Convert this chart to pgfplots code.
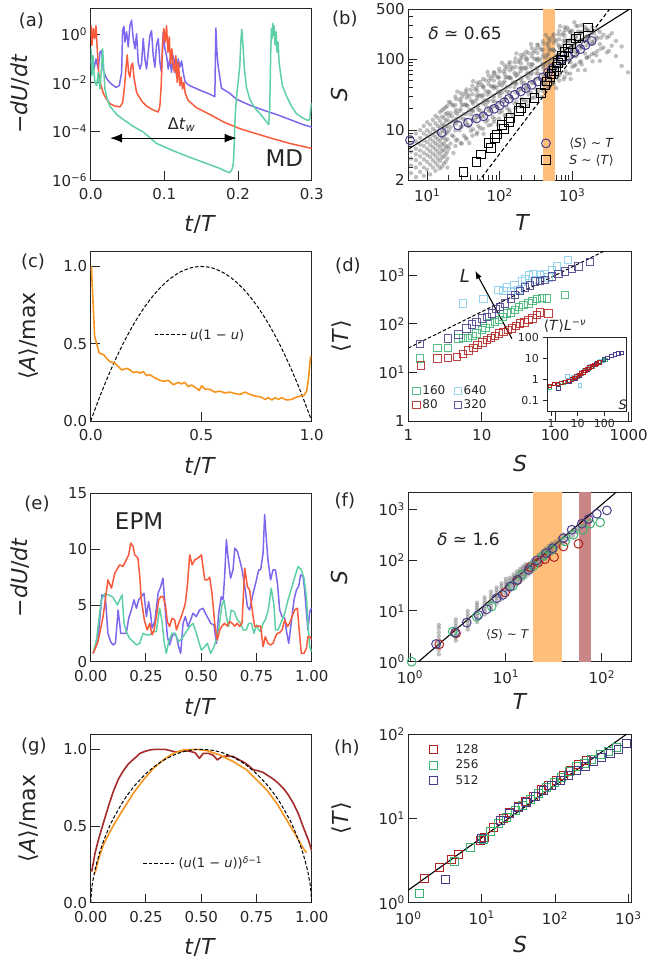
\documentclass[border=0pt]{standalone}
\usepackage{fontspec}
\setmainfont{DejaVu Sans}
\usepackage{pgfplots}
\pgfplotsset{compat=1.18}
\usetikzlibrary{arrows.meta}

\definecolor{axc}{HTML}{262626}
\definecolor{lblue}{HTML}{7B68EE}
\definecolor{lred}{HTML}{FA5A3C}
\definecolor{lgreen}{HTML}{5FD0A5}
\definecolor{cblue}{HTML}{483D8B}
\definecolor{band}{HTML}{FFBF7A}
\definecolor{band2}{HTML}{C98686}
\definecolor{corange}{HTML}{F7941D}
\definecolor{gred}{HTML}{A52A2A}
\definecolor{dgreen}{HTML}{3CB371}
\definecolor{dred}{HTML}{B22222}
\definecolor{dsky}{HTML}{87CEEB}
\definecolor{dpurple}{HTML}{483D8B}

\newcommand{\fz}[1]{\fontsize{#1}{#1}\selectfont}

\pgfplotsset{
  panel/.style={
    scale only axis, anchor=north west,
    axis line style={line width=1pt, draw=axc},
    tick align=inside, tick pos=left,
    major tick length=9pt, minor tick length=5pt,
    tick style={line width=1pt, draw=axc},
    tick label style={font=\fz{15}, text=axc},
    xticklabel style={yshift=-5pt},
    label style={font=\fz{22}, text=axc},
  },
  nominor/.style={minor tick length=0pt},
  dleg/.style={legend image code/.code={\draw[##1] (0pt,0pt) -- (33pt,0pt);}},
  cloud/.style={only marks, mark=*, mark size=2.2pt, mark options={draw opacity=0, fill=black!60, fill opacity=0.42}},
}

\begin{document}
\begin{tikzpicture}
\useasboundingbox (0,0) rectangle (652pt,-962pt);

% ---------------- (a) ----------------
\begin{axis}[panel, nominor, at={(90.7pt,-8pt)}, width=221pt, height=172pt,
  xmin=0, xmax=0.3, ymode=log, ymin=1e-6, ymax=12,
  xtick={0,0.1,0.2,0.3}, xticklabels={0.0,0.1,0.2,0.3},
  ytick={1e-6,1e-4,1e-2,1}, yticklabels={10\textsuperscript{−6},10\textsuperscript{−4},10\textsuperscript{−2},10\textsuperscript{0}},
  xlabel={\textit{t}/\textit{T}}, ylabel={−\textit{dU}/\textit{dt}},
  xlabel style={at={(axis description cs:0.495,-0.256)}, anchor=center},
  ylabel style={at={(axis description cs:-0.32,0.5)}, anchor=center},
  extra description/.code={\node[font=\fz{18}, text=axc] at (-0.268,0.924) {(a)};},
]
\addplot[lblue, line width=1.5pt, line join=round] coordinates {
(0,0.08)(0.0004,0.06)(0.0026,0.13)(0.0044,0.037)(0.0071,0.096)(0.0103,0.037)(0.0126,0.18)(0.0148,0.21)(0.0171,0.032)(0.0207,0.017)(0.0239,0.012)(0.0284,0.0088)(0.0343,0.0065)(0.0388,0.0076)(0.042,0.027)(0.0433,1.4)(0.0451,2.1)(0.0465,0.48)(0.0487,1.25)(0.051,0.3)(0.0532,2.2)(0.0555,3.8)(0.0578,0.66)(0.06,0.25)(0.0623,1.05)(0.0645,0.07)(0.0668,0.037)(0.069,0.06)(0.0713,0.66)(0.0736,0.096)(0.0758,0.037)(0.0781,0.18)(0.0804,0.9)(0.0826,1.4)(0.0849,0.13)(0.0871,0.044)(0.0894,0.35)(0.0917,0.66)(0.0939,0.07)(0.0962,0.027)(0.0984,1.25)(0.1007,0.25)(0.103,0.13)(0.1052,0.037)(0.1075,0.096)(0.1097,0.027)(0.112,0.13)(0.1143,0.06)(0.1165,0.02)(0.1188,0.096)(0.121,0.044)(0.1233,0.08)(0.1256,0.027)(0.1278,0.012)(0.13,0.0095)(0.1346,0.0076)(0.1482,0.005)(0.1617,0.0034)(0.1685,0.0027)(0.1699,1.8)(0.171,0.3)(0.172,0.1)(0.173,0.05)(0.1775,0.006)(0.1888,0.0037)(0.1979,0.0021)(0.216,0.0012)(0.234,0.00076)(0.2521,0.0005)(0.2702,0.00031)(0.2883,0.00019)(0.3,0.00015)};
\addplot[lred, line width=1.5pt, line join=round] coordinates {
(0,0.9)(0.0004,2.2)(0.0017,0.35)(0.0035,1.72)(0.0053,0.66)(0.0071,2.2)(0.0089,0.25)(0.0108,0.027)(0.0135,0.0089)(0.0171,0.0037)(0.0216,0.0021)(0.0261,0.0014)(0.0329,0.0011)(0.0397,0.00103)(0.0433,0.0015)(0.046,0.0076)(0.0478,0.037)(0.0496,0.14)(0.0514,0.027)(0.0532,0.017)(0.055,0.05)(0.0569,0.065)(0.0587,0.017)(0.0623,0.004)(0.069,0.0018)(0.0758,0.0011)(0.0849,0.00076)(0.0917,0.00063)(0.0939,0.0011)(0.0957,0.0076)(0.0975,0.35)(0.0993,1.72)(0.1012,0.48)(0.103,2.2)(0.1048,0.18)(0.1066,0.77)(0.1084,0.06)(0.1102,0.25)(0.112,0.05)(0.1138,0.027)(0.1156,0.13)(0.1174,0.0104)(0.1192,0.07)(0.121,0.0076)(0.1228,0.017)(0.1247,0.0056)(0.1265,0.0104)(0.1283,0.0037)(0.1323,0.0019)(0.1436,0.00094)(0.1617,0.0005)(0.1798,0.00025)(0.2024,0.00013)(0.225,8e-5)(0.2476,5e-5)(0.2702,3.2e-5)(0.3,2e-5)};
\addplot[lgreen, line width=1.5pt, line join=round] coordinates {
(0,0.07)(0.0004,0.25)(0.0017,0.02)(0.0031,0.13)(0.0044,0.027)(0.0058,0.0104)(0.008,0.0076)(0.0103,0.027)(0.0126,0.0056)(0.0148,0.05)(0.0162,0.25)(0.0175,0.05)(0.0193,0.0056)(0.0225,0.0021)(0.0261,0.0011)(0.0352,0.0005)(0.0442,0.00031)(0.0578,0.00016)(0.0713,9.5e-5)(0.0894,3.2e-5)(0.112,1.6e-5)(0.1346,8.6e-6)(0.1572,4.8e-6)(0.1753,3e-6)(0.1821,2.4e-6)(0.1879,2e-6)(0.1911,2.4e-6)(0.1934,4.1e-6)(0.1947,2.4e-5)(0.1961,0.00043)(0.1979,0.0025)(0.2001,0.0104)(0.2024,0.05)(0.2038,0.48)(0.2051,1.6)(0.2065,0.48)(0.2083,0.05)(0.2114,0.0065)(0.216,0.0021)(0.2227,0.00094)(0.2318,0.00046)(0.2386,0.00025)(0.2417,0.00019)(0.2431,0.0011)(0.2444,0.18)(0.2453,1.72)(0.2462,0.66)(0.2471,2.8)(0.248,0.9)(0.249,2.2)(0.2503,0.35)(0.2517,1.25)(0.253,0.18)(0.2544,0.48)(0.2557,0.07)(0.2575,0.027)(0.2603,0.0076)(0.2657,0.0029)(0.2725,0.0011)(0.2792,0.00054)(0.2883,0.00035)(0.2951,0.00028)(0.2973,0.00032)(0.2987,0.00081)(0.3,0.0015)};
\draw[{Latex[length=12pt,width=9pt]}-{Latex[length=12pt,width=9pt]}, line width=1.1pt, black] (axis cs:0.0262,5.3e-5) -- (axis cs:0.198,5.3e-5);
\node[font=\fz{16}, text=axc] at (axis cs:0.1235,1.9e-4) {Δ\textit{t}\textsubscript{\textit{w}}};
\node[font=\fz{23}, text=axc] at (rel axis cs:0.876,0.125) {MD};
\end{axis}

% ---------------- (b) ----------------
\begin{axis}[panel, at={(408.3pt,-9.3pt)}, width=223.4pt, height=170.7pt,
  xmode=log, ymode=log, xmin=5.5, xmax=6600, ymin=2, ymax=500,
  xtick={10,100,1000}, xticklabels={10\textsuperscript{1},10\textsuperscript{2},10\textsuperscript{3}},
  ytick={2,10,100,500}, yticklabels={2,10,100,500},
  minor ytick={3,4,5,6,7,8,9,20,30,40,50,60,70,80,90,200,300,400},
  minor xtick={},
  xlabel={\textit{T}}, ylabel={\textit{S}},
  xlabel style={at={(axis description cs:0.513,-0.251)}, anchor=center},
  ylabel style={at={(axis description cs:-0.306,0.5)}, anchor=center},
  extra description/.code={\node[font=\fz{18}, text=axc] at (-0.284,0.942) {(b)};},
  legend cell align=left,
  legend style={at={(rel axis cs:0.93,0.07)}, anchor=south east, draw=none, fill=none, inner sep=0pt, font=\fz{12.5}, text=axc, row sep=2pt, /tikz/every odd column/.append style={column sep=17pt}},
]
\addplot[cloud, forget plot] coordinates {
(6,2.5)(6,3.2)(6,4)(6,5)(6,6.5)(6,8)
(7,2.2)(7,3)(7,3.8)(7,4.6)(7,5.5)(7,7)(7,9)
(8,2.6)(8,3.4)(8,4.3)(8,5.2)(8,6.3)(8,7.8)(8,10)
(9,2.3)(9,3)(9,3.9)(9,4.8)(9,6)(9,7.2)(9,9)(9,11.5)
(10,2.8)(10,3.6)(10,4.5)(10,5.5)(10,6.8)(10,8.3)(10,10)(10,13)
(11,2.4)(11,3.3)(11,4.2)(11,5.1)(11,6.2)(11,7.6)(11,9.3)(11,12)
(12,3)(12,3.8)(12,4.7)(12,5.8)(12,7)(12,8.6)(12,10.5)(12,14)
(13,2.7)(13,3.5)(13,4.4)(13,5.4)(13,6.6)(13,8)(13,9.8)(13,12.5)(13,16)
(14,3.2)(14,4)(14,5)(14,6.2)(14,7.5)(14,9.2)(14,11.5)(14,15)
(15,2.9)(15,3.7)(15,4.6)(15,5.7)(15,7)(15,8.6)(15,10.8)(15,13.5)(15,18)
(16,3.1)(16,4.1)(16,5.1)(16,6.3)(16,7.8)(16,9.6)(16,12)(16,15.5)(16,19)
(17,3.4)(17,4.3)(17,5.3)(17,6.5)(17,8)(17,9.8)(17,12)(17,15)(17,20)
(18,3.6)(18,4.6)(18,5.8)(18,7.2)(18,8.9)(18,11)(18,13.5)(18,17)(18,21)
(19,3)(19,4)(19,5)(19,6)(19,7.5)(19,9.3)(19,11.5)(19,14)(19,17.5)(19,22)
(20,5.6)(20,9.9)(20,16)(20,25)(23,8.2)(23,13.6)(23,22)(23,4.8)
(26,7.4)(26,13.3)(26,17)(26,35)(30,11.3)(30,22.7)(30,6.5)(30,29)
(34,7.9)(34,14)(34,23)(34,35)(38,11.3)(38,18.9)(38,30)(38,6.6)
(43,10.3)(43,18.5)(43,23.6)(43,49)(48,15.4)(48,30.8)(48,8.8)(48,39.6)
(54,10.7)(54,19)(54,31)(54,47.6)(60,15.3)(60,25.5)(60,40.8)(60,8.9)
(68,13.8)(68,24.8)(68,31.7)(68,66)(76,20.8)(76,41.6)(76,11.9)(76,53.5)
(85,14.4)(85,25.5)(85,41.5)(85,63.8)(95,20.6)(95,34.3)(95,54.9)(95,12)
(107,18.5)(107,33.3)(107,42.6)(107,88.8)(120,27.9)(120,55.9)(120,16)(120,71.8)
(135,19.4)(135,34.5)(135,56)(135,86)(150,27.7)(150,46.2)(150,73.9)(150,16.2)
(170,25)(170,45)(170,57.6)(170,120)(190,37.7)(190,75.5)(190,21.6)(190,97)
(215,26.3)(215,46.7)(215,75.9)(215,117)(240,37.6)(240,62.7)(240,100)(240,22)
(270,33.8)(270,60.8)(270,77.7)(270,162)(300,50.6)(300,101)(300,28.9)(300,130)
(340,35.2)(340,62.6)(340,102)(340,157)(380,50.4)(380,84)(380,134)(380,29.4)
(430,45.5)(430,81.9)(430,105)(430,218)(480,68.3)(480,137)(480,39)(480,176)
(540,47)(540,84)(540,137)(540,210)(600,67)(600,112)(600,179)(600,39)
(680,60.5)(680,109)(680,139)(680,290)(760,91)(760,182)(760,52)(760,234)
(850,62.6)(850,111)(850,181)(850,278)(950,90)(950,150)(950,240)(950,52.5)
(1070,80.5)(1070,145)(1070,185)(1070,330)(1200,122)(1200,244)(1200,70)(1200,290)
(1350,84)(1350,150)(1350,243)(1350,300)(1500,120)(1500,200)(1500,280)(1500,70)
(1700,108)(1700,195)(1700,250)(1900,163)(1900,280)(1900,93)(2150,113)(2150,202)
(2400,162)(2400,240)(2400,94)(2700,145)(2700,220)(3000,200)(3000,124)
(3500,154)(3500,230)(4000,180)(4000,110)(4800,150)(4800,80)(5900,65)
(22,8.5)(22,15.7)(22,23)(28,10)(28,18.6)(28,27)(36,11.9)(36,22)(36,32)
(46,13.9)(46,25.7)(46,37.5)(57,16)(57,29.6)(57,43)(72,18.6)(72,34.3)(72,50)
(90,21.5)(90,39.7)(90,58)(113,25)(113,46)(113,67)(143,29)(143,53.6)(143,78)
(180,33.8)(180,62.4)(180,91)(227,39.3)(227,72.6)(227,106)(285,45.5)(285,84)(285,122)
(360,52.7)(360,97)(360,142)(455,61)(455,113)(455,165)(570,71)(570,131)(570,190)
(720,82)(720,151)(720,220)(900,95)(900,175)(900,255)(1130,109)(1130,202)(1130,294)
(21,6.5)(21,11)(21,12.9)(21,17.4)(21,24.5)(25,7.2)(25,12.2)(25,14.4)(25,19.4)(25,27.4)
(32,8.4)(32,14.3)(32,16.8)(32,22.7)(32,31.9)(40,9.8)(40,16.6)(40,19.5)(40,26.3)(40,37)
(51,11.4)(51,19.4)(51,22.8)(51,30.8)(51,43.3)(64,13.2)(64,22.4)(64,26.4)(64,35.6)(64,50.2)
(80,15.3)(80,25.9)(80,30.5)(80,41.2)(80,58)(100,17.6)(100,29.8)(100,35.1)(100,47.4)(100,66.7)
(126,20.4)(126,34.6)(126,40.7)(126,55)(126,77.3)(160,23.8)(160,40.5)(160,47.6)(160,64.3)(160,90.4)
(200,27.5)(200,46.7)(200,54.9)(200,74.1)(200,104)(250,31.8)(250,54)(250,63.5)(250,85.7)(250,121)
(320,37.2)(320,63.2)(320,74.4)(320,100)(320,141)(400,42.9)(400,72.9)(400,85.8)(400,116)(400,163)
(500,49.7)(500,84.5)(500,99.4)(500,134)(500,189)(640,58.5)(640,99.5)(640,117)(640,158)(640,222)
(800,67.5)(800,115)(800,135)(800,182)(800,257)(1000,77.5)(1000,132)(1000,155)(1000,209)(1000,250)
(1260,90)(1260,153)(1260,180)(1260,230)(1600,105)(1600,178)(1600,210)(1600,260)
(2000,121)(2000,180)(2000,230)(2500,140)(2500,200)(3200,130)(3200,210)
(24.5,6)(24.5,9.9)(24.5,13.5)(24.5,17.8)(24.5,22.7)(24.5,29.8)
(29,6.6)(29,11.1)(29,15)(29,19.8)(29,25.3)(29,33.2)
(35,7.5)(35,12.5)(35,17)(35,22.4)(35,28.6)(35,37.6)
(42,8.4)(42,14.1)(42,19.1)(42,25.1)(42,32.2)(42,42.2)
(49,9.3)(49,15.5)(49,21.1)(49,27.8)(49,35.5)(49,46.6)
(59,10.5)(59,17.5)(59,23.8)(59,31.3)(59,40)(59,52.5)
(70,11.7)(70,19.5)(70,26.5)(70,34.9)(70,44.6)(70,58.6)
(83,13.1)(83,21.8)(83,29.6)(83,39)(83,49.9)(83,65.5)
(98,14.6)(98,24.3)(98,33)(98,43.4)(98,55.5)(98,72.9)
(117,16.3)(117,27.2)(117,37)(117,48.6)(117,62.2)(117,81.7)
(138,18.2)(138,30.3)(138,41.1)(138,54.1)(138,69.3)(138,90.9)
(165,20.4)(165,34)(165,46.1)(165,60.6)(165,77.6)(165,102)
(196,22.8)(196,38)(196,51.6)(196,67.9)(196,86.9)(196,114)
(233,25.5)(233,42.5)(233,57.7)(233,75.9)(233,97.1)(233,127)
(277,28.5)(277,47.5)(277,64.5)(277,84.9)(277,109)(277,143)
(330,31.9)(330,53.2)(330,72.2)(330,95)(330,122)(330,160)
(392,35.7)(392,59.4)(392,80.7)(392,106)(392,136)(392,178)
(466,39.9)(466,66.4)(466,90.2)(466,119)(466,152)(466,199)
(555,44.5)(555,74.2)(555,101)(555,133)(555,170)(555,223)
(660,50)(660,83.3)(660,113)(660,149)(660,190)(660,250)
(785,55.9)(785,93.1)(785,126)(785,166)(785,213)(785,279)
(935,62.6)(935,104)(935,142)(935,186)(935,238)
(1110,83)(1110,125)(1110,166)(1110,208)(1320,93)(1320,140)(1320,186)(1320,232)
(1570,104)(1570,156)(1570,208)(1570,260)(1870,117)(1870,175)(1870,233)(2220,130)(2220,195)(2220,260)};
\addplot[draw=none, fill=band, forget plot] coordinates {(390,1) (575,1) (575,1000) (390,1000)};
\addplot[black, line width=1.1pt, forget plot] coordinates {(5.5,5.42) (6600,525)};
\addplot[black, line width=1.1pt, dashed, dash pattern=on 4pt off 2.5pt, forget plot] coordinates {(50,1.84) (4000,660)};
\addplot[only marks, mark=o, mark size=4.4pt, cblue, line width=1pt, mark options={draw=cblue}] coordinates {
(5.8,7.25)(15.9,9.27)(26.5,11.7)(36.6,12.8)(48,14.6)(59.5,15.7)(70,18.4)(84,20)(100,22.3)(116,24.8)(134,27.7)(161,31.5)(195,35)(230,39)(276,43.4)(336,48.3)(395,55.5)(464,65)(529,74)(608,85)(715,98)(887,111)(1078,124)(1296,138)(1525,157)(1853,180)};
\addlegendentry{⟨\textit{S}⟩ ∼ \textit{T}}
\addplot[only marks, mark=square, mark size=4.4pt, black, line width=1pt, mark options={draw=black}] coordinates {
(31.8,2.62)(48,3.61)(54.6,4.57)(70,6.7)(75.5,5.66)(87,7.8)(91.6,8.7)(108,12)(114,10.3)(134,13.1)(141,14.9)(185,18.4)(195,20.5)(222,24.3)(301,28.3)(374,33.6)(417,42.5)(454,48.3)(490,55.5)(517,61.7)(564,68.7)(608,76.5)(642,88)(700,98)(731,111)(780,127)(869,141)(968,162)(1127,194)(1228,207)(1663,277)};
\addlegendentry{\textit{S} ∼ ⟨\textit{T}⟩}
\node[font=\fz{17}, text=axc] at (rel axis cs:0.254,0.857) {\textit{δ} ≃ 0.65};
\end{axis}

% ---------------- (c) ----------------
\begin{axis}[panel, at={(90.7pt,-251pt)}, width=221pt, height=170pt,
  xmin=0, xmax=1, ymin=0, ymax=1.1,
  xtick={0,0.5,1}, xticklabels={0.0,0.5,1.0},
  ytick={0,0.5,1}, yticklabels={0.0,0.5,1.0},
  xlabel={\textit{t}/\textit{T}}, ylabel={⟨\textit{A}⟩/max},
  xlabel style={at={(axis description cs:0.495,-0.265)}, anchor=center},
  ylabel style={at={(axis description cs:-0.279,0.5)}, anchor=center},
  extra description/.code={\node[font=\fz{18}, text=axc] at (-0.261,0.935) {(c)};},
  dleg, legend style={at={(rel axis cs:0.495,0.506)}, anchor=center, draw=none, fill=none, font=\fz{13}, text=axc},
]
\addplot[black, line width=1pt, dash pattern=on 3.5pt off 2pt, smooth] coordinates {
(0,0)(0.05,0.19)(0.1,0.36)(0.15,0.51)(0.2,0.64)(0.25,0.75)(0.3,0.84)(0.35,0.91)(0.4,0.96)(0.45,0.99)(0.5,1)(0.55,0.99)(0.6,0.96)(0.65,0.91)(0.7,0.84)(0.75,0.75)(0.8,0.64)(0.85,0.51)(0.9,0.36)(0.95,0.19)(1,0)};
\addlegendentry{\textit{u}(1 − \textit{u})}
\addplot[corange, line width=1.6pt, line join=round, forget plot] coordinates {
(0.003,1.0)(0.018,0.546)(0.0265,0.503)(0.0385,0.44)(0.0575,0.43)(0.072,0.406)(0.087,0.384)(0.11,0.374)(0.125,0.352)(0.14,0.33)(0.163,0.341)(0.178,0.33)(0.193,0.313)(0.208,0.32)(0.223,0.31)(0.238,0.32)(0.253,0.294)(0.268,0.3)(0.283,0.285)(0.306,0.268)(0.328,0.257)(0.351,0.263)(0.374,0.235)(0.396,0.25)(0.411,0.24)(0.426,0.25)(0.441,0.222)(0.456,0.233)(0.479,0.212)(0.491,0.197)(0.502,0.228)(0.517,0.207)(0.539,0.205)(0.562,0.187)(0.585,0.193)(0.607,0.182)(0.63,0.187)(0.653,0.178)(0.676,0.172)(0.698,0.187)(0.721,0.172)(0.744,0.161)(0.767,0.157)(0.79,0.14)(0.804,0.151)(0.82,0.136)(0.834,0.151)(0.849,0.14)(0.864,0.151)(0.887,0.136)(0.91,0.14)(0.925,0.151)(0.947,0.161)(0.965,0.166)(0.977,0.193)(0.985,0.268)(0.995,0.42)};
\end{axis}

% ---------------- (d) ----------------
\begin{axis}[panel, nominor, at={(408.3pt,-251pt)}, width=223.4pt, height=170pt,
  xmode=log, ymode=log, xmin=1, xmax=1100, ymin=1, ymax=3160,
  xtick={1,10,100,1000}, xticklabels={1,10,100,1000},
  ytick={1,10,100,1000}, yticklabels={1,10\textsuperscript{1},10\textsuperscript{2},10\textsuperscript{3}},
  xlabel={\textit{S}}, ylabel={⟨\textit{T}⟩},
  xlabel style={at={(axis description cs:0.5,-0.247)}, anchor=center},
  ylabel style={at={(axis description cs:-0.297,0.5)}, anchor=center},
  extra description/.code={\node[font=\fz{18}, text=axc] at (-0.27,0.912) {(d)};},
  legend columns=2, legend cell align=left,
  legend style={at={(rel axis cs:0.02,0.05)}, anchor=south west, draw=none, fill=none, inner sep=0pt, font=\fz{12}, text=axc, /tikz/every even column/.append style={column sep=7pt}},
]
\addplot[black, line width=1pt, dash pattern=on 3.5pt off 2pt, forget plot] coordinates {(1,31.8) (1100,6000)};
\addplot[only marks, mark=square, mark size=3.7pt, dgreen, line width=1pt, opacity=0.85] coordinates {
(1.44,19.2)(2.5,32.3)(3.5,31.8)(4.8,49.8)(5.6,51.3)(6.45,51.3)(7.5,56.5)(8.5,63)(10,74)(11.3,83)(13,102)(15.2,110)(17.2,119)(19.1,140)(21.9,164)(25.1,171)(28.5,192)(32.3,225)(37,243)(43.3,263)(49,294)(56.2,324)(65.8,345)(77,334)(137,392)};
\addlegendentry{160}
\addplot[only marks, mark=square, mark size=3.7pt, dsky, line width=1pt, opacity=0.85] coordinates {
(5.6,263)(10.5,324)(16.9,497)(19.7,475)(21.9,556)(25,475)(27.9,631)(31.6,497)(35,740)(39,840)(44,985)(50.7,1050)(54.5,795)(62.4,1000)(71.6,1050)(81,895)(90,1290)(105,1510)(149,2070)};
\addlegendentry{640}
\addplot[only marks, mark=square, mark size=3.7pt, dred, line width=1pt, opacity=0.85] coordinates {
(1.49,14)(2.5,19.2)(3.5,19.8)(4.56,20.8)(5.6,24.3)(6.6,28.5)(7.7,31.8)(8.8,36.2)(10.2,41.1)(11.7,45.9)(13.4,51.3)(15.2,56.5)(17.2,63)(19.7,68.3)(22.6,74)(25.6,80)(29.1,91)(33.3,102)(38.2,107)(43.3,119)(49,129)(56,151)(62.4,171)(81,164)};
\addlegendentry{80}
\addplot[only marks, mark=square, mark size=3.7pt, dpurple, line width=1pt, opacity=0.85] coordinates {
(1.44,39)(3.5,49.8)(4.8,60)(6.2,80)(7.3,97)(8.5,110)(10,129)(11.7,140)(13.7,164)(15.5,201)(17.8,225)(20.8,263)(25,334)(28.5,392)(33.3,474)(39,556)(45.6,611)(53.4,740)(62.4,764)(73,800)(90,938)(111,1050)(137,1190)(169,1350)(208,1510)(300,1860)};
\addlegendentry{320}
\draw[-{Latex[length=8pt,width=6pt]}, line width=1.1pt, black] (axis cs:25.7,49.7) -- (axis cs:8.13,1228);
\node[font=\fz{18}, text=axc] at (axis cs:5.9,955) {\textit{L}};
\node[font=\fz{14}, text=axc] at (rel axis cs:0.701,0.557) {⟨\textit{T}⟩\textit{L}\textsuperscript{−\textit{ν}}};
\end{axis}

% inset of (d)
\begin{axis}[scale only axis, anchor=north west, at={(547.5pt,-337pt)}, width=78.5pt, height=74pt,
  axis background/.style={fill=white},
  axis line style={line width=1pt, draw=axc},
  xmode=log, ymode=log, xmin=0.74, xmax=640, ymin=0.032, ymax=100,
  tick pos=left, tick align=outside, major tick length=5pt, minor tick length=0pt,
  tick style={line width=1pt, draw=axc},
  tick label style={font=\fz{11}, text=axc},
  xtick={1,10,100}, xticklabels={1,10,100},
  ytick={0.1,1,10,100}, yticklabels={0.1,1,10,100},
]
\addplot[only marks, mark=square, mark size=1.8pt, dgreen, line width=0.8pt] coordinates {
(0.9,0.42)(1.9,0.55)(3,0.7)(4.5,0.82)(7,1.1)(10,1.4)(14,1.9)(19,2.5)(26,3.3)(35,4.2)(48,5.2)(65,6.3)(85,7.3)(110,8.2)};
\addplot[only marks, mark=square, mark size=1.8pt, dsky, line width=0.8pt] coordinates {
(4.2,1.34)(12,0.52)(7,1.3)(10,1.6)(14,2.1)(18,2.6)(24,3.3)(30,4.0)(40,4.8)(50,5.7)(70,7)};
\addplot[only marks, mark=square, mark size=1.8pt, dpurple, line width=0.8pt] coordinates {
(1.9,0.38)(5,0.8)(8,1.1)(12,1.5)(17,2.1)(24,2.9)(34,3.8)(48,5)(68,6.6)(95,8.5)(130,10.5)(180,13)(250,15)(330,17)(430,17.5)};
\addplot[only marks, mark=square, mark size=1.8pt, dred, line width=0.8pt] coordinates {
(0.9,0.5)(1.3,0.6)(1.8,0.62)(2.5,0.68)(3.3,0.75)(4.5,0.85)(6,1.0)(7.5,1.15)(9,1.35)(11,1.6)(13,1.85)(16,2.2)(19,2.6)(23,3.1)(28,3.6)(34,4.2)(42,4.9)(52,5.6)(64,6.3)};
\node[font=\fz{13}, text=axc] at (rel axis cs:0.96,0.08) {\textit{S}};
\end{axis}

% ---------------- (e) ----------------
\begin{axis}[panel, at={(90.7pt,-493.3pt)}, width=221pt, height=168.4pt,
  xmin=0, xmax=1, ymin=0, ymax=15,
  xtick={0,0.25,0.5,0.75,1}, xticklabels={0.00,0.25,0.50,0.75,1.00},
  ytick={0,5,10,15}, yticklabels={0,5,10,15},
  xlabel={\textit{t}/\textit{T}}, ylabel={−\textit{dU}/\textit{dt}},
  xlabel style={at={(axis description cs:0.495,-0.269)}, anchor=center},
  ylabel style={at={(axis description cs:-0.32,0.5)}, anchor=center},
  extra description/.code={\node[font=\fz{18}, text=axc] at (-0.243,0.936) {(e)};},
]
\addplot[lblue, line width=1.5pt, line join=round] coordinates {
(0.011,0.74)(0.033,1.93)(0.051,5.95)(0.066,5.8)(0.078,2.53)(0.09,1.79)(0.101,1.49)(0.112,1.64)(0.124,4.61)(0.136,2.53)(0.148,2.53)(0.161,2.53)(0.172,3.87)(0.184,4.61)(0.196,5.51)(0.207,4.76)(0.217,5.51)(0.229,5.8)(0.241,6.1)(0.252,4.02)(0.262,5.36)(0.271,4.32)(0.278,2.98)(0.29,3.57)(0.305,6.1)(0.317,6.7)(0.327,7.44)(0.338,4.46)(0.347,2.23)(0.357,1.49)(0.368,2.23)(0.377,2.53)(0.388,2.23)(0.398,1.34)(0.407,0.74)(0.418,3.42)(0.428,4.02)(0.44,3.13)(0.452,3.72)(0.463,4.32)(0.478,4.02)(0.493,4.61)(0.508,4.76)(0.519,4.32)(0.531,3.87)(0.543,3.42)(0.558,3.27)(0.569,1.64)(0.579,4.32)(0.591,5.8)(0.599,5.51)(0.606,7.59)(0.614,10.86)(0.621,9.38)(0.633,7.44)(0.644,8.18)(0.652,10.12)(0.664,9.82)(0.674,9.08)(0.685,8.18)(0.697,6.7)(0.709,4.91)(0.719,4.61)(0.735,6.1)(0.75,7.29)(0.76,8.18)(0.769,8.18)(0.78,9.67)(0.787,13.1)(0.795,10.86)(0.802,9.08)(0.814,7.29)(0.825,8.18)(0.836,8.18)(0.845,6.99)(0.855,4.61)(0.866,4.02)(0.878,3.87)(0.885,2.83)(0.896,1.64)(0.908,3.57)(0.92,5.51)(0.931,6.4)(0.941,6.7)(0.95,7.74)(0.961,7.59)(0.968,6.4)(0.976,4.46)(0.983,2.83)(0.991,4.46)(1.0,4.8)};
\addplot[lgreen, line width=1.5pt, line join=round] coordinates {
(0.011,0.74)(0.026,1.93)(0.048,5.51)(0.063,6.04)(0.081,5.95)(0.101,5.74)(0.121,5.06)(0.131,5.51)(0.142,5.95)(0.151,3.42)(0.161,2.68)(0.176,2.08)(0.192,1.79)(0.207,1.49)(0.222,1.64)(0.237,2.53)(0.252,2.38)(0.267,2.38)(0.282,2.68)(0.297,2.68)(0.312,4.76)(0.323,3.57)(0.332,1.79)(0.342,0.74)(0.353,1.79)(0.368,2.53)(0.383,2.53)(0.398,1.79)(0.413,2.08)(0.428,2.53)(0.448,3.13)(0.463,3.42)(0.478,2.53)(0.489,1.79)(0.501,1.04)(0.516,1.34)(0.528,1.64)(0.543,0.74)(0.558,1.34)(0.573,2.23)(0.584,3.57)(0.594,5.06)(0.603,5.51)(0.614,4.02)(0.624,3.13)(0.636,4.61)(0.649,4.46)(0.664,3.72)(0.679,3.42)(0.689,2.83)(0.704,2.83)(0.715,3.42)(0.727,3.42)(0.739,2.53)(0.75,3.27)(0.76,2.83)(0.769,2.68)(0.78,3.42)(0.79,3.72)(0.802,4.46)(0.81,5.51)(0.817,6.55)(0.83,4.91)(0.836,2.83)(0.848,2.83)(0.863,3.57)(0.878,4.32)(0.893,5.51)(0.911,6.7)(0.923,7.53)(0.938,8.48)(0.953,8.18)(0.965,7.44)(0.976,5.8)(0.983,3.42)(0.991,1.34)(1.0,0.9)};
\addplot[lred, line width=1.5pt, line join=round] coordinates {
(0.011,0.74)(0.033,1.79)(0.056,4.02)(0.078,7.29)(0.094,6.55)(0.109,7.89)(0.131,8.63)(0.146,8.48)(0.161,9.08)(0.172,9.52)(0.181,10.57)(0.192,10.27)(0.199,9.52)(0.214,9.23)(0.222,7.59)(0.229,5.51)(0.244,3.57)(0.256,2.83)(0.267,3.42)(0.278,2.38)(0.287,2.83)(0.297,4.02)(0.308,5.51)(0.317,5.8)(0.327,5.8)(0.338,5.06)(0.347,3.57)(0.357,3.13)(0.368,3.87)(0.38,3.72)(0.388,2.83)(0.398,3.42)(0.41,4.02)(0.422,4.76)(0.428,5.21)(0.437,6.7)(0.448,9.52)(0.459,8.63)(0.471,9.08)(0.486,9.23)(0.501,9.52)(0.516,7.29)(0.528,7.29)(0.538,7.53)(0.549,6.1)(0.561,3.42)(0.573,1.93)(0.584,2.83)(0.594,3.18)(0.606,3.42)(0.618,3.18)(0.629,3.57)(0.64,3.42)(0.652,3.18)(0.664,3.42)(0.674,3.13)(0.685,3.48)(0.697,8.33)(0.709,6.7)(0.719,6.4)(0.735,4.02)(0.742,3.13)(0.754,3.18)(0.769,3.18)(0.78,1.34)(0.79,2.23)(0.802,1.64)(0.814,1.49)(0.825,1.64)(0.836,2.23)(0.845,2.53)(0.855,2.59)(0.866,2.83)(0.878,3.72)(0.89,3.13)(0.9,3.42)(0.911,4.02)(0.923,4.61)(0.935,4.76)(0.946,2.23)(0.953,0.74)(0.965,0.74)(0.976,1.19)(0.983,2.23)(0.991,2.23)(1.0,2.0)};
\node[font=\fz{23}, text=axc] at (rel axis cs:0.219,0.835) {EPM};
\end{axis}

% ---------------- (f) ----------------
\begin{axis}[panel, nominor, at={(408.3pt,-492.7pt)}, width=223.4pt, height=169pt,
  xmode=log, ymode=log, xmin=0.96, xmax=205, ymin=1, ymax=2130,
  xtick={1,10,100}, xticklabels={10\textsuperscript{0},10\textsuperscript{1},10\textsuperscript{2}},
  ytick={1,10,100,1000}, yticklabels={10\textsuperscript{0},10\textsuperscript{1},10\textsuperscript{2},10\textsuperscript{3}},
  xlabel={\textit{T}}, ylabel={\textit{S}},
  xlabel style={at={(axis description cs:0.5,-0.238)}, anchor=center},
  ylabel style={at={(axis description cs:-0.306,0.5)}, anchor=center},
  extra description/.code={\node[font=\fz{18}, text=axc] at (-0.284,0.95) {(f)};},
]
\addplot[draw=none, fill=band] coordinates {(19.4,0.5) (38.3,0.5) (38.3,5000) (19.4,5000)};
\addplot[draw=none, fill=band2] coordinates {(58.5,0.5) (77.4,0.5) (77.4,5000) (58.5,5000)};
\addplot[cloud] coordinates {
(2,1.4)(2,1.7)(2,2.0)(2,2.3)(2,2.7)(2,3.2)(2,3.8)(2,4.6)(2,5.3)
(3,2.6)(3,3.0)(3,3.4)(3,3.9)(3,4.4)(3,5.0)(3,5.8)(3,6.8)
(4,4.3)(4,5.0)(4,5.8)(4,6.6)(4,7.5)(4,8.6)(4,10)
(5,6.0)(5,7.0)(5,8.0)(5,9.0)(5,10.2)(5,11.5)(5,13)(5,14.5)
(6,8.5)(6,9.8)(6,11)(6,12.5)(6,14)(6,16)(6,18.5)
(7,11)(7,12.6)(7,14.3)(7,16)(7,18)(7,20.5)(7,24)
(8,14)(8,16)(8,18)(8,20)(8,22.5)(8,25.5)(8,29)
(9,17)(9,19.5)(9,22)(9,24.5)(9,27.5)(9,31)(9,35)
(10,21)(10,24)(10,27)(10,30)(10,34)(10,38)(10,43)
(11,25)(11,28.5)(11,32)(11,36)(11,40)(11,45)
(12,29)(12,33)(12,37)(12,41)(12,46)(12,52)
(13,33)(13,38)(13,43)(13,47)(13,53)(13,60)
(14,38)(14,43)(14,48)(14,53)(14,60)(14,67)
(15,42)(15,48)(15,54)(15,60)(15,67)(15,75)
(16,46)(16,53)(16,60)(16,66)(16,74)(16,83)
(17,52)(17,59)(17,66)(17,73)(17,82)
(18,57)(18,65)(18,73)(18,81)(18,90)
(19,62)(19,71)(19,80)(19,89)(19,100)
(20,68)(20,78)(20,88)(20,97)(20,108)
(22,80)(22,92)(22,104)(22,115)(22,128)
(24,92)(24,106)(24,120)(24,133)(24,148)
(26,105)(26,121)(26,137)(26,152)(26,170)
(28,120)(28,138)(28,155)(28,172)(28,190)
(30,135)(30,155)(30,175)(30,195)(30,215)
(33,160)(33,185)(33,210)(33,232)(36,185)(36,215)(36,245)(36,270)
(40,215)(40,250)(40,285)(40,320)(45,260)(45,300)(45,345)(50,300)(50,350)(50,400)(55,350)(55,410)};
\addplot[black, line width=1.1pt] coordinates {(1,0.72) (205,4000)};
\addplot[only marks, mark=o, mark size=4.4pt, dred, line width=1pt] coordinates {
(1.08,0.96)(2.02,2.2)(3.02,3.62)(9.8,23)(13,39.7)(17.9,72.8)(21.8,90)(25.6,105)(31.8,115)(39.8,186)(57.1,210)};
\addplot[only marks, mark=o, mark size=4.4pt, dgreen, line width=1pt] coordinates {
(1.04,1)(2.79,3.91)(4.96,7.73)(7.11,12.2)(11.8,31.1)(14.6,51.4)(19.4,77.3)(24.6,122)(30.1,160)(41.4,234)(50.6,316)(63.4,397)(75.5,521)(96.1,554)};
\addplot[only marks, mark=o, mark size=4.4pt, dpurple, line width=1pt] coordinates {
(1.87,2.23)(2.95,3.73)(3.9,5.89)(5.16,8.34)(6.3,10.8)(8.02,17.8)(9.27,20.7)(11.05,30.2)(13.2,40.9)(17.2,64.5)(21,98.5)(26.2,137)(30.8,172)(39.8,272)(48.6,397)(61.8,521)(72.6,644)(88.7,821)(113,955)};
\node[font=\fz{17}, text=axc] at (rel axis cs:0.269,0.722) {\textit{δ} ≃ 1.6};
\node[font=\fz{12}, text=axc] at (rel axis cs:0.444,0.158) {⟨\textit{S}⟩ ∼ \textit{T}};
\end{axis}

% ---------------- (g) ----------------
\begin{axis}[panel, at={(90.7pt,-734pt)}, width=221pt, height=168.7pt,
  xmin=0, xmax=1, ymin=0, ymax=1.1,
  xtick={0,0.25,0.5,0.75,1}, xticklabels={0.00,0.25,0.50,0.75,1.00},
  ytick={0,0.5,1}, yticklabels={0.0,0.5,1.0},
  xlabel={\textit{t}/\textit{T}}, ylabel={⟨\textit{A}⟩/max},
  xlabel style={at={(axis description cs:0.495,-0.263)}, anchor=center},
  ylabel style={at={(axis description cs:-0.279,0.5)}, anchor=center},
  extra description/.code={\node[font=\fz{18}, text=axc] at (-0.257,0.924) {(g)};},
  dleg, legend style={at={(rel axis cs:0.51,0.235)}, anchor=center, draw=none, fill=none, font=\fz{13}, text=axc},
]
\addplot[gred, line width=1.6pt, line join=round, forget plot] coordinates {
(0.0045,0.203)(0.0195,0.322)(0.0346,0.409)(0.057,0.518)(0.0797,0.626)(0.102,0.724)(0.125,0.805)(0.148,0.861)(0.17,0.904)(0.193,0.935)(0.208,0.953)(0.223,0.974)(0.246,0.987)(0.268,0.996)(0.291,1.0)(0.313,1.0)(0.336,1.0)(0.359,0.992)(0.382,0.983)(0.404,0.987)(0.427,0.992)(0.449,0.987)(0.472,0.978)(0.492,0.942)(0.51,0.974)(0.532,0.974)(0.555,0.961)(0.573,0.931)(0.593,0.952)(0.615,0.957)(0.645,0.953)(0.668,0.935)(0.691,0.918)(0.713,0.896)(0.736,0.866)(0.759,0.86)(0.781,0.849)(0.804,0.827)(0.827,0.805)(0.849,0.779)(0.872,0.746)(0.894,0.703)(0.917,0.648)(0.94,0.579)(0.962,0.492)(0.985,0.409)(1.0,0.339)};
\addplot[corange, line width=1.6pt, line join=round, forget plot] coordinates {
(0.0195,0.192)(0.0346,0.279)(0.057,0.376)(0.087,0.463)(0.117,0.539)(0.155,0.627)(0.193,0.714)(0.238,0.8)(0.283,0.876)(0.329,0.931)(0.374,0.974)(0.419,0.996)(0.479,1.0)(0.525,0.992)(0.585,0.963)(0.645,0.92)(0.706,0.866)(0.751,0.8)(0.797,0.735)(0.842,0.648)(0.887,0.539)(0.932,0.43)(0.962,0.354)(0.977,0.326)};
\addplot[black, line width=1pt, dash pattern=on 3.5pt off 2pt, smooth] coordinates {
(0,0)(0.005,0.095)(0.01,0.144)(0.02,0.217)(0.04,0.325)(0.06,0.409)(0.08,0.48)(0.1,0.542)(0.15,0.668)(0.2,0.765)(0.25,0.841)(0.3,0.901)(0.35,0.945)(0.4,0.976)(0.45,0.994)(0.5,1)(0.55,0.994)(0.6,0.976)(0.65,0.945)(0.7,0.901)(0.75,0.841)(0.8,0.765)(0.85,0.668)(0.9,0.542)(0.92,0.48)(0.94,0.409)(0.96,0.325)(0.98,0.217)(0.99,0.144)(0.995,0.095)(1,0)};
\addlegendentry{(\textit{u}(1 − \textit{u}))\textsuperscript{\textit{δ}−1}}
\end{axis}

% ---------------- (h) ----------------
\begin{axis}[panel, nominor, at={(408.3pt,-734pt)}, width=223.4pt, height=168.7pt,
  xmode=log, ymode=log, xmin=1, xmax=1110, ymin=1, ymax=100,
  xtick={1,10,100,1000}, xticklabels={10\textsuperscript{0},10\textsuperscript{1},10\textsuperscript{2},10\textsuperscript{3}},
  ytick={1,10,100}, yticklabels={10\textsuperscript{0},10\textsuperscript{1},10\textsuperscript{2}},
  xlabel={\textit{S}}, ylabel={⟨\textit{T}⟩},
  xlabel style={at={(axis description cs:0.5,-0.25)}, anchor=center},
  ylabel style={at={(axis description cs:-0.297,0.5)}, anchor=center},
  extra description/.code={\node[font=\fz{18}, text=axc] at (-0.275,0.917) {(h)};},
  legend cell align=left,
  legend style={at={(rel axis cs:0.094,0.95)}, anchor=north west, draw=none, fill=none, inner sep=0pt, font=\fz{12}, text=axc, row sep=1pt},
]
\addplot[black, line width=1.1pt, forget plot] coordinates {(1,1.41) (1110,110)};
\addplot[only marks, mark=square, mark size=4pt, dred, line width=1pt] coordinates {
(1.64,1.94)(2.7,2.62)(3.9,3.27)(4.8,3.78)(7.08,4.53)(9.7,5.53)(11.1,5.95)(14.4,7.82)(19.7,10)(24.3,11.7)(31.6,14)(39,15.8)(50.7,18.4)(65.8,21.7)(81,24.2)(105,28)(130,31.8)(164,36.7)(208,44)(270,48.3)};
\addlegendentry{\hspace*{16pt}128}
\addplot[only marks, mark=square, mark size=4pt, dgreen, line width=1pt] coordinates {
(1.41,1.27)(4.33,3.06)(7.08,4.53)(10.5,5.64)(13.3,6.95)(16.9,8.73)(21.9,10.3)(28.5,12.3)(36.3,14.4)(45.6,16.8)(59.3,19.8)(77,23.3)(97,26.5)(123,30.6)(157,35.7)(197,41)(249,44.9)(316,50.1)(411,56.4)(533,61.8)(693,69.5)};
\addlegendentry{\hspace*{16pt}256}
\addplot[only marks, mark=square, mark size=4pt, dpurple, line width=1pt] coordinates {
(3.26,1.86)(10,5.79)(17.8,9.55)(24.3,11.3)(31.6,13.5)(41.1,15.3)(53.4,18.1)(69.3,21.3)(90,24.2)(117,28)(152,31.8)(197,36.7)(257,41)(333,47)(433,52.9)(562,59)(731,65.8)(948,77.5)};
\addlegendentry{\hspace*{16pt}512}
\end{axis}
\end{tikzpicture}
\end{document}
